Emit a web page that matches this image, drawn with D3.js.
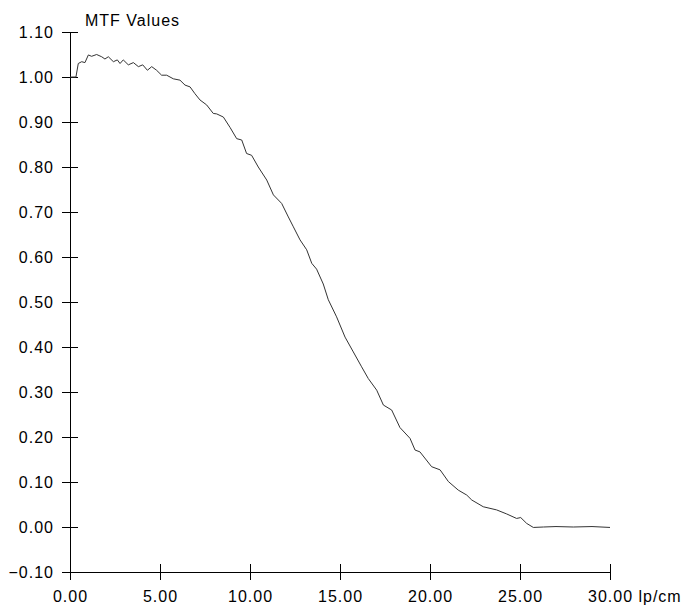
<!DOCTYPE html>
<html>
<head>
<meta charset="utf-8">
<script src="https://cdn.jsdelivr.net/npm/d3@7"></script>
<style>
  body { margin: 0; background: #fff; }
  text { font-family: "Liberation Sans", Arial, sans-serif; font-size: 16px; letter-spacing: 1px; fill: #000; }
</style>
</head>
<body>
<div class="chart"></div>
<script>
// MTF curve (lp/cm vs MTF)
var freq = [0, 0.09, 0.33, 0.46, 0.65, 0.83, 1.02, 1.2, 1.48, 1.76,
  1.94, 2.13, 2.41, 2.63, 2.78, 2.96, 3.24, 3.52, 3.8, 4.04,
  4.3, 4.54, 4.81, 5.09, 5.37, 5.74, 6.11, 6.39, 6.67, 6.94,
  7.22, 7.59, 7.96, 8.15, 8.52, 8.89, 9.26, 9.54, 9.81, 10.09,
  10.46, 10.93, 11.3, 11.76, 12.13, 12.41, 12.78, 13.15, 13.43, 13.7,
  14.07, 14.35, 14.81, 15.28, 15.74, 16.2, 16.57, 17.04, 17.41, 17.87,
  18.33, 18.89, 19.17, 19.44, 20.09, 20.56, 21.02, 21.57, 22.04, 22.32,
  22.96, 23.7, 24.26, 24.81, 25.04, 25.37, 25.74, 26.3, 27.0, 27.96,
  29.0, 30];
var mtf = [1.00, 1.00, 1.00, 1.03, 1.034, 1.032, 1.049, 1.046, 1.05, 1.045,
  1.04, 1.045, 1.034, 1.038, 1.030, 1.038, 1.027, 1.032, 1.023, 1.027,
  1.015, 1.023, 1.015, 1.004, 1.004, 0.996, 0.993, 0.982, 0.978, 0.963,
  0.949, 0.938, 0.919, 0.918, 0.911, 0.888, 0.863, 0.86, 0.830, 0.826,
  0.800, 0.771, 0.738, 0.719, 0.689, 0.667, 0.638, 0.616, 0.586, 0.573,
  0.540, 0.505, 0.467, 0.422, 0.389, 0.356, 0.330, 0.304, 0.271, 0.260,
  0.221, 0.197, 0.171, 0.167, 0.134, 0.127, 0.101, 0.082, 0.071, 0.06,
  0.045, 0.038, 0.029, 0.019, 0.021, 0.008, -0.001, 0.000, 0.001, 0.000,
  0.001, -0.001];

var xTicks = [0, 5, 10, 15, 20, 25, 30];
var yTicks = [-0.1, 0, 0.1, 0.2, 0.3, 0.4, 0.5, 0.6, 0.7, 0.8, 0.9, 1.0, 1.1];
var yTitle = 'MTF Values';
var xUnit = ' lp/cm';

var svg_width = 694,
    svg_height = 607,
    svg = d3.select('.chart').append('svg').attr('width', svg_width).attr('height', svg_height);

var x = d3.scaleLinear().domain([0, 30]).range([70, 610]);
var y = d3.scaleLinear().domain([-0.1, 1.1]).range([572, 32]);

var fmt = d3.format('.2f');
var font = '"Liberation Sans", Arial, sans-serif';

// y axis, ticks crossing the line
var gy = svg.append('g').attr('transform', 'translate(' + x(0) + ',0)')
  .call(d3.axisLeft(y).tickValues(yTicks).tickFormat(fmt).tickSize(8).tickSizeOuter(0));
gy.selectAll('.tick line').attr('x1', -8).attr('x2', 8);
gy.selectAll('.tick text').attr('x', -16).attr('dy', '0.35em')
  .style('font-size', '16px').style('font-family', font);

// x axis
var gx = svg.append('g').attr('transform', 'translate(0,' + y(-0.1) + ')')
  .call(d3.axisBottom(x).tickValues(xTicks).tickFormat(fmt).tickSize(8).tickSizeOuter(0));
gx.selectAll('.tick line').attr('y1', -8).attr('y2', 8);
gx.selectAll('.tick text').attr('y', 19)
  .style('font-size', '16px').style('font-family', font);

// last x label carries the unit
gx.selectAll('.tick text').filter(function(d) { return d === 30; })
  .each(function() {
    var t = d3.select(this);
    var w = this.getComputedTextLength();
    t.text(fmt(30) + xUnit).attr('text-anchor', 'start').attr('x', -w / 2);
  });

svg.selectAll('.domain').attr('stroke', '#000');
svg.selectAll('.tick line').attr('stroke', '#000');

svg.append('text').attr('x', 85).attr('y', 26).text(yTitle);

var line = d3.line()
  .x(function(d, i) { return x(freq[i]); })
  .y(function(d) { return y(d); });

svg.append('path')
  .datum(mtf)
  .attr('fill', 'none')
  .attr('stroke', '#333')
  .attr('stroke-width', 1)
  .attr('d', line);
</script>
</body>
</html>
